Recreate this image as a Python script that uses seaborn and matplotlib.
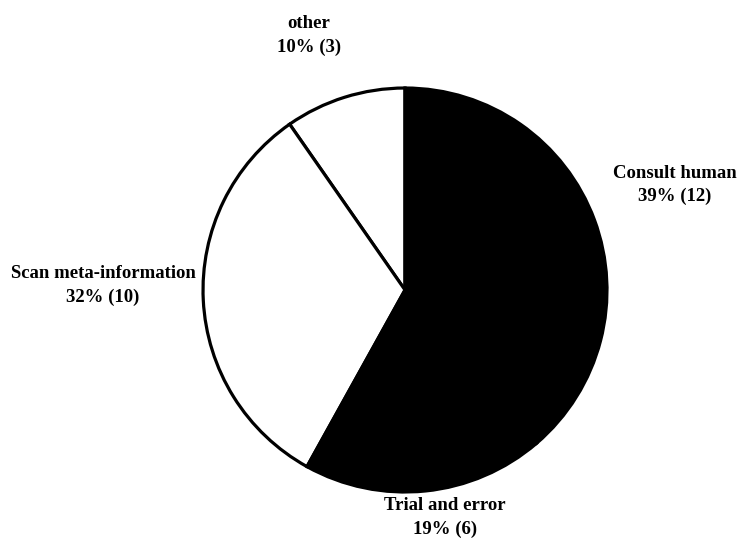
import matplotlib
matplotlib.use("Agg")
import matplotlib.pyplot as plt
import seaborn as sns

# Strategies used when stuck (number of participants)
categories = ["other", "Scan meta-information", "Trial and error", "Consult human"]
counts = [3, 10, 6, 12]
fills = ["white", "white", "black", "black"]

sns.set_theme(style="white")
plt.rcParams["font.family"] = ["Liberation Serif", "DejaVu Serif"]

fig = plt.figure(figsize=(7.38, 5.44), dpi=100)
ax = fig.add_axes([0.2751, 0.0956, 0.5474, 0.7426])

wedges, _ = ax.pie(
    counts,
    colors=fills,
    startangle=90,
    counterclock=True,
    radius=1.0,
    wedgeprops=dict(edgecolor="black", linewidth=2.3),
)
ax.set_xlim(-1.0, 1.0)
ax.set_ylim(-1.0, 1.0)
ax.set_aspect("equal")
ax.axis("off")

total = sum(counts)
label_pos = {
    "other": (-0.475, 1.262),
    "Scan meta-information": (-1.495, 0.022),
    "Trial and error": (0.198, -1.126),
    "Consult human": (1.337, 0.520),
}
for name, n in zip(categories, counts):
    pct = round(100 * n / total)
    x, y = label_pos[name]
    ax.text(x, y, f"{name}\n{pct}% ({n})", ha="center", va="center",
            multialignment="center", fontsize=13.5, fontweight="bold",
            linespacing=1.5, color="black", clip_on=False)

fig.savefig("out.png", dpi=100, facecolor="white")
